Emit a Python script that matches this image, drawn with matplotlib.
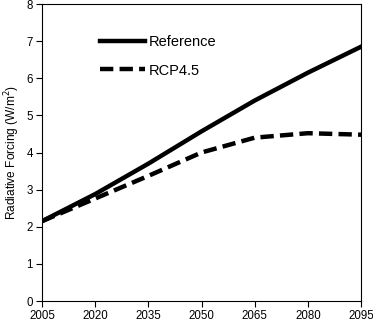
import matplotlib
matplotlib.use("Agg")
import matplotlib.pyplot as plt

plt.rcParams['font.family'] = ['Liberation Sans', 'DejaVu Sans']

years = [2005, 2020, 2035, 2050, 2065, 2080, 2095]
reference = [2.15, 2.88, 3.70, 4.57, 5.40, 6.15, 6.85]
rcp45 = [2.15, 2.76, 3.37, 4.00, 4.40, 4.52, 4.48]

fig = plt.figure(figsize=(3.73, 3.21), dpi=100)
ax = fig.add_axes([0.1126, 0.0623, 0.8554, 0.9252])

ax.plot(years, reference, color='black', lw=3.2, label='Reference')
ax.plot(years, rcp45, color='black', lw=3.2, dashes=(3, 1.4), label='RCP4.5')

ax.set_xlim(2005, 2095)
ax.set_ylim(0, 8)
ax.set_xticks(years)
ax.set_yticks(range(0, 9))
ax.tick_params(labelsize=8.3, length=4, width=0.8, direction='out', pad=2.5)
ax.set_ylabel('Radiative Forcing (W/m$^2$)', fontsize=8.6, labelpad=3)
for s in ax.spines.values():
    s.set_linewidth(0.8)

ax.legend(loc='upper left', bbox_to_anchor=(0.14, 0.94), frameon=False,
          fontsize=10.5, handlelength=3.1, labelspacing=1.0, handletextpad=0.25)

fig.savefig('out.png', dpi=100)
